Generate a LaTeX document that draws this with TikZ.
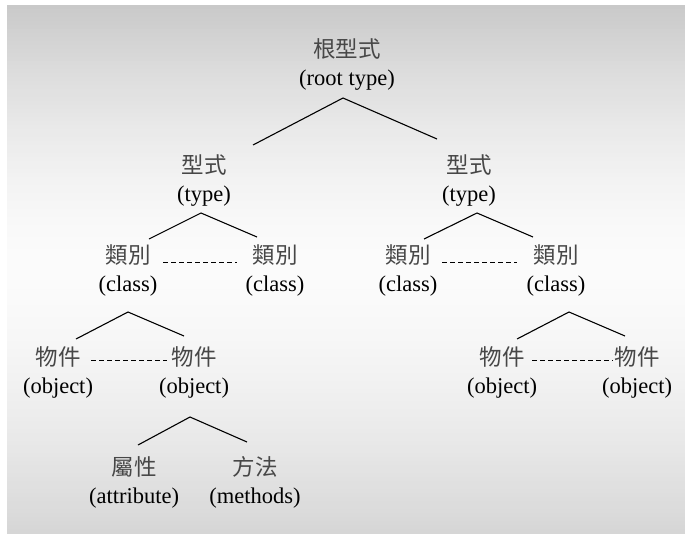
\documentclass[tikz,border=0pt]{standalone}
\usepackage{fontspec}
\setmainfont{Liberation Serif}
\newfontfamily\cjk{Noto Sans CJK TC}

\begin{document}
\begin{tikzpicture}[x=1pt, y=-1pt, font=\fontsize{22.5}{28}\selectfont,
      item/.style={align=center, inner sep=0pt},
      branch/.style={line width=1.1pt},
      sibling/.style={line width=1pt, dash pattern=on 5pt off 3pt}]
    % backdrop: grey at top and bottom, almost white in the middle
    \fill[white] (0,0) rectangle (685,533);
    \foreach \i in {0,...,131}{
      \pgfmathsetmacro\v{\i<65 ? 1.5+19.5*pow(max((65-\i)/65,0.001),1.6) : 1.5+14.5*pow(max((\i-65)/66,0.001),1.6)}
      \fill[black!\v] (7,{5+4*\i}) rectangle (685,{9.5+4*\i});
    }
    % hierarchy
    \node[item] (root) at (347,64) {{\cjk\color{black!72}根型式}\\(root type)};
    \node[item] (type1) at (204,181) {{\cjk\color{black!72}型式}\\(type)};
    \node[item] (type2) at (469,181) {{\cjk\color{black!72}型式}\\(type)};
    \node[item] (cls1) at (128,270) {{\cjk\color{black!72}類別}\\(class)};
    \node[item] (cls2) at (275,270) {{\cjk\color{black!72}類別}\\(class)};
    \node[item] (cls3) at (408,270) {{\cjk\color{black!72}類別}\\(class)};
    \node[item] (cls4) at (556,270) {{\cjk\color{black!72}類別}\\(class)};
    \node[item] (obj1) at (58,372) {{\cjk\color{black!72}物件}\\(object)};
    \node[item] (obj2) at (194,372) {{\cjk\color{black!72}物件}\\(object)};
    \node[item] (obj3) at (502,372) {{\cjk\color{black!72}物件}\\(object)};
    \node[item] (obj4) at (637,372) {{\cjk\color{black!72}物件}\\(object)};
    \node[item] (attr) at (134,482) {{\cjk\color{black!72}屬性}\\(attribute)};
    \node[item] (meth) at (255,482) {{\cjk\color{black!72}方法}\\(methods)};
    % branches
    \draw[branch] ([shift={(49,-36)}]type1.center) -- ([shift={(-4,34)}]root.center) -- ([shift={(-32,-42)}]type2.center);
    \draw[branch] ([shift={(21,-31)}]cls1.center) -- ([shift={(-3,32)}]type1.center) -- ([shift={(-18,-33)}]cls2.center);
    \draw[branch] ([shift={(16,-31)}]cls3.center) -- ([shift={(8,32)}]type2.center) -- ([shift={(-23,-33)}]cls4.center);
    \draw[branch] ([shift={(18,-33)}]obj1.center) -- ([shift={(0,42)}]cls1.center) -- ([shift={(-10,-36)}]obj2.center);
    \draw[branch] ([shift={(15,-33)}]obj3.center) -- ([shift={(13,42)}]cls4.center) -- ([shift={(-12,-36)}]obj4.center);
    \draw[branch] ([shift={(4,-37)}]attr.center) -- ([shift={(-4,45)}]obj2.center) -- ([shift={(-8,-40)}]meth.center);
    % siblings
    \draw[sibling] ([shift={(35,-8)}]cls1.center) -- ([shift={(-38,-8)}]cls2.center);
    \draw[sibling] ([shift={(34,-8)}]cls3.center) -- ([shift={(-39,-8)}]cls4.center);
    \draw[sibling] ([shift={(33,-12)}]obj1.center) -- ([shift={(-27,-12)}]obj2.center);
    \draw[sibling] ([shift={(30,-12)}]obj3.center) -- ([shift={(-24,-12)}]obj4.center);
\end{tikzpicture}
\end{document}
